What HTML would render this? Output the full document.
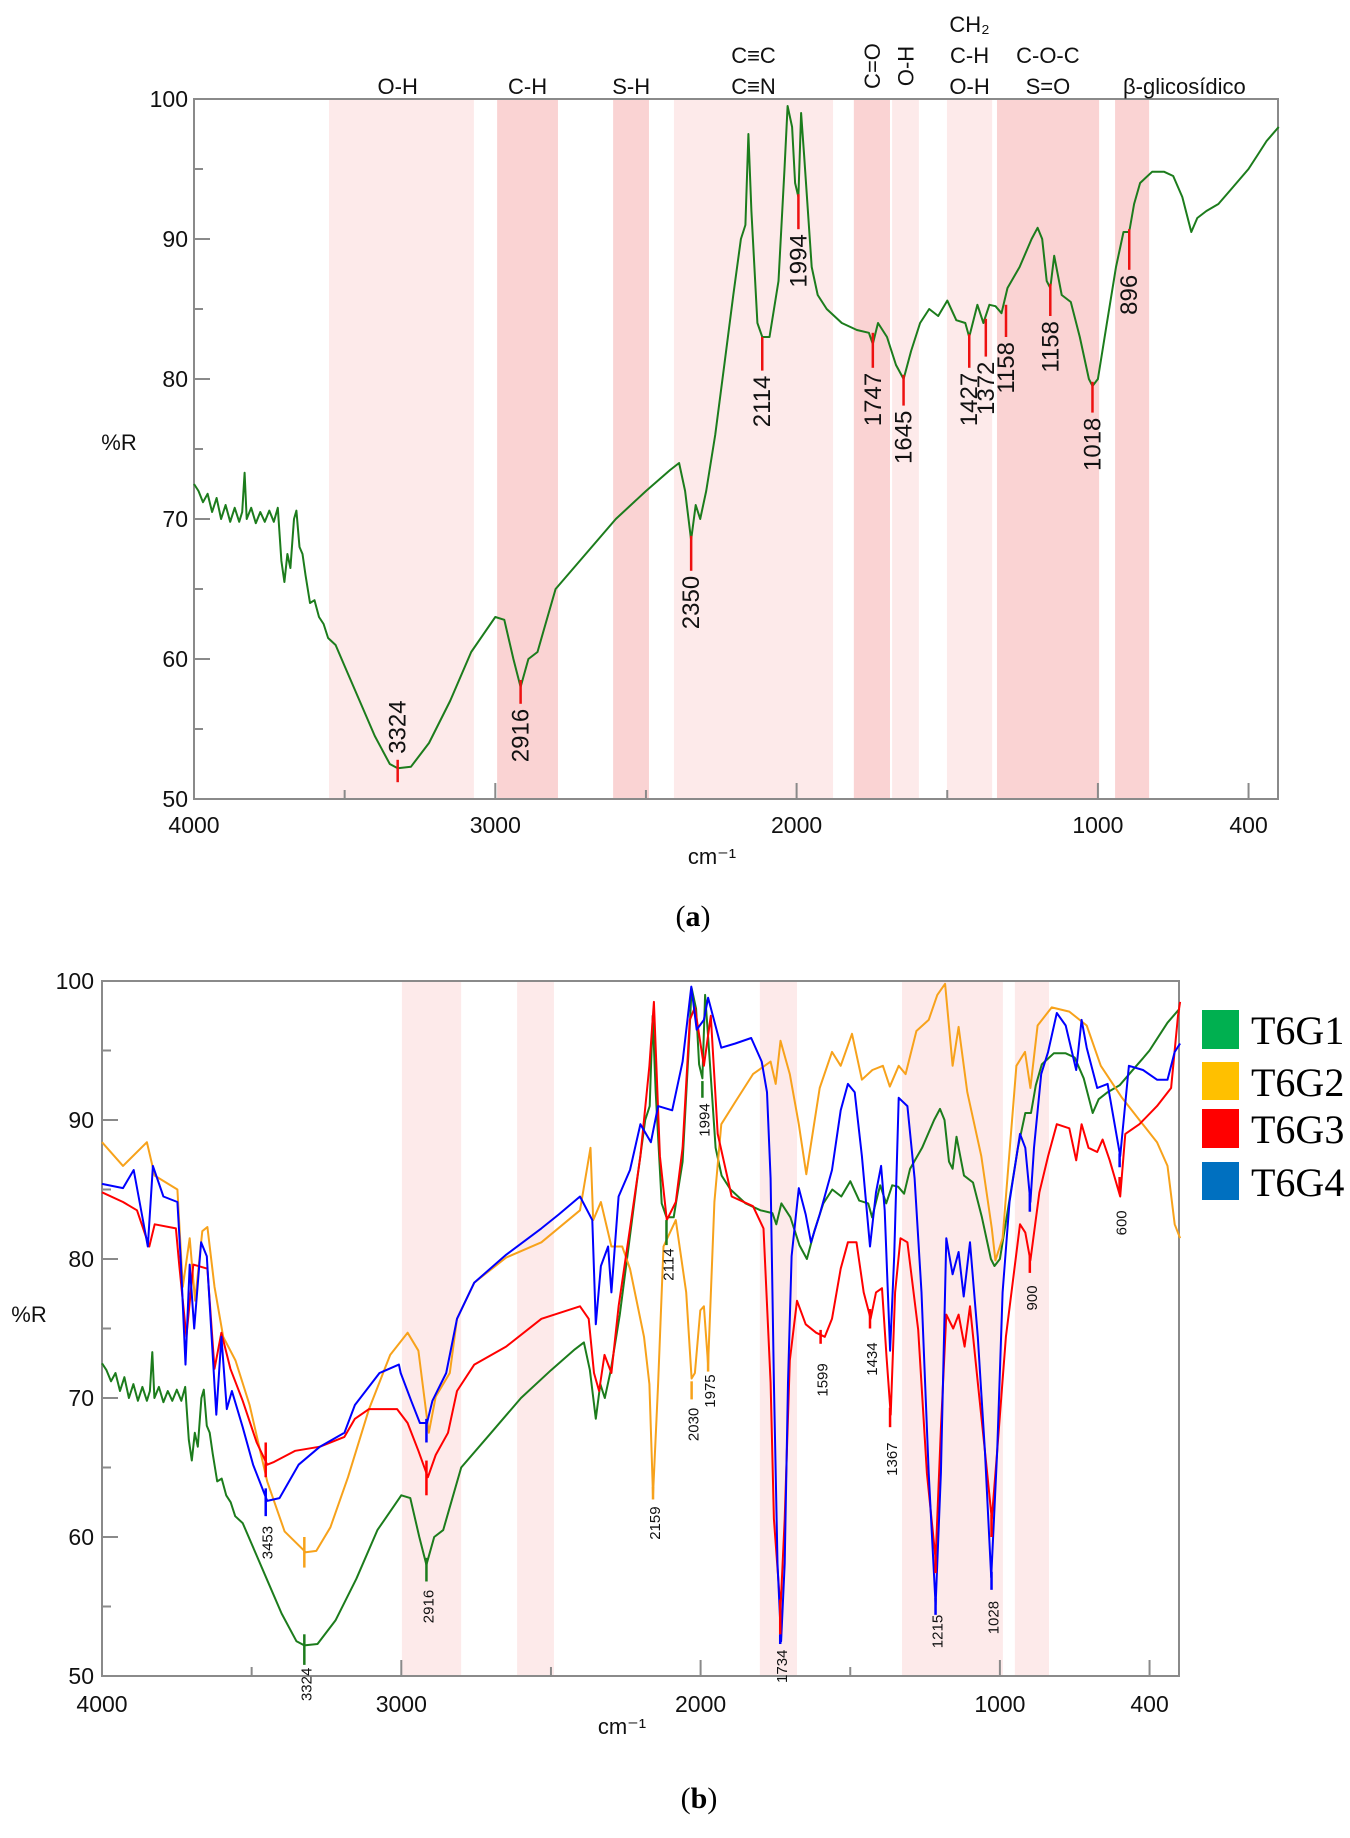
<!DOCTYPE html>
<html><head><meta charset="utf-8"><style>
html,body{margin:0;padding:0;background:#fff}
svg{display:block;font-family:"Liberation Sans",sans-serif}
</style></head><body>
<svg id="svg" width="1350" height="1838" viewBox="0 0 1350 1838" xmlns="http://www.w3.org/2000/svg">
<g id="gA"></g>
<g id="gB"></g>
<text x="693" y="926" font-size="30" text-anchor="middle" font-family="Liberation Serif,serif">(<tspan font-weight="bold">a</tspan>)</text>
<text x="699" y="1808" font-size="30" text-anchor="middle" font-family="Liberation Serif,serif">(<tspan font-weight="bold">b</tspan>)</text>
<g font-family="Liberation Serif,serif" font-size="40">
<rect x="1202" y="1010" width="37" height="39" fill="#00b050"/>
<text x="1251" y="1044">T6G1</text>
<rect x="1202" y="1062" width="37" height="38" fill="#ffc000"/>
<text x="1251" y="1096">T6G2</text>
<rect x="1202" y="1109" width="37" height="39" fill="#ff0000"/>
<text x="1251" y="1143">T6G3</text>
<rect x="1202" y="1162" width="37" height="38" fill="#0070c0"/>
<text x="1251" y="1196">T6G4</text>
</g>
</svg>
<script>
// ---------- data ----------
const xTickValues = [4000, 3000, 2000, 1000, 500];
const xTickLabels = ["4000", "3000", "2000", "1000", "400"];
const xMinorTicks = [3500, 2500, 1500];
const yTickValues = [100, 90, 80, 70, 60, 50];
const yMinorTicks = [95, 85, 75, 65, 55];

const g1Wn = [4000,3985,3970,3955,3940,3925,3910,3895,3880,3865,3850,3840,3832,3825,3810,3795,3780,3765,3750,3735,3722,3710,3700,3690,3680,3668,3660,3650,3640,3630,3615,3600,3585,3570,3555,3530,3500,3450,3400,3350,3324,3280,3220,3150,3080,3000,2970,2940,2916,2890,2860,2840,2800,2700,2600,2500,2420,2390,2370,2350,2335,2320,2300,2270,2240,2210,2185,2170,2160,2150,2130,2114,2090,2060,2040,2030,2015,2005,1994,1985,1975,1950,1930,1900,1850,1800,1760,1747,1730,1700,1670,1645,1620,1590,1560,1530,1500,1470,1440,1427,1400,1380,1360,1340,1320,1300,1260,1220,1200,1185,1170,1158,1145,1120,1090,1060,1030,1018,1000,970,940,915,896,880,860,820,780,750,720,690,670,640,600,560,520,500,470,440,400];
const g1Val = [72.5,72,71.2,71.8,70.5,71.5,70,71,69.8,70.8,69.8,70.5,73.3,70,70.8,69.7,70.5,69.8,70.6,69.8,70.8,67,65.5,67.5,66.5,70,70.6,68,67.5,66,64,64.2,63,62.5,61.5,61,59.5,57,54.5,52.5,52.2,52.3,54,57,60.5,63,62.8,60,58,60,60.5,62,65,67.5,70,72,73.5,74,72,68.5,71,70,72,76,81,86,90,91,97.5,92,84,83,83,87,95,99.5,98,94,93,99,96,88,86,85,84,83.5,83.3,82.5,84,83,81,80,82,84,85,84.5,85.6,84.2,84,83,85.3,84,85.3,85.2,84.7,86.5,88,90,90.8,90,87,86.5,88.8,86,85.5,83,80,79.5,80,84,88,90.5,90.5,92.5,94,94.8,94.8,94.5,93,90.5,91.5,92,92.5,93.5,94.5,95,96,97,98];

const g2Wn = [4000,3930,3850,3824,3748,3730,3707,3689,3665,3648,3624,3595,3554,3507,3448,3390,3319,3284,3237,3178,3108,3037,2979,2943,2908,2885,2838,2814,2756,2650,2532,2403,2368,2359,2333,2298,2262,2236,2189,2171,2159,2142,2124,2083,2048,2030,2019,2001,1989,1975,1954,1931,1884,1825,1766,1749,1733,1702,1672,1647,1602,1561,1532,1494,1461,1426,1391,1368,1338,1315,1279,1238,1209,1183,1158,1138,1109,1062,1027,1015,991,945,916,898,874,827,768,710,663,592,534,475,440,416,398];
const g2Val = [88.4,86.7,88.4,86,85,78,81.5,77,82,82.3,78,74.4,72.7,69.5,64,60.4,58.9,59,60.7,64.3,69.2,73.1,74.7,73.4,67.5,70.1,71.8,75.7,78.3,80.1,81.2,83.5,88,82.8,84.1,80.9,80.9,79.3,74.4,71,63,71,80.9,82.8,77.6,71.4,71.8,76.3,76.6,72.4,84.1,89.7,91.3,93.3,94.2,92.6,95.7,93.3,89.7,86.1,92.3,94.9,93.9,96.2,92.9,93.6,93.9,92.4,93.9,93.3,96.4,97.2,99,99.8,93.9,96.7,92,87.4,82.2,79.9,81.5,93.9,94.9,92.3,96.8,98.1,97.8,96.8,93.9,91.6,90,88.4,86.7,82.5,81.5];

const g3Wn = [4000,3930,3883,3842,3824,3753,3742,3718,3695,3648,3624,3601,3571,3530,3483,3448,3425,3354,3272,3190,3155,3108,3014,2979,2943,2911,2885,2844,2814,2756,2650,2532,2403,2374,2356,2339,2321,2298,2274,2236,2201,2171,2156,2136,2113,2083,2060,2036,2019,1989,1966,1943,1896,1825,1790,1766,1755,1733,1719,1702,1678,1649,1614,1585,1561,1532,1508,1479,1455,1432,1414,1394,1379,1365,1350,1332,1309,1273,1244,1215,1197,1179,1156,1138,1118,1100,1074,1050,1027,1009,980,933,915,898,868,839,810,768,745,727,704,675,657,633,598,581,534,475,428,405,398];
const g3Val = [84.8,84.1,83.5,80.9,82.5,82.2,79.6,74.4,79.6,79.3,72.1,74.7,72.1,69.8,66.8,65.2,65.4,66.2,66.5,67.2,68.5,69.2,69.2,68.2,66.2,64.3,65.9,67.5,70.5,72.4,73.7,75.7,76.6,75.7,71.8,70.5,73.1,71.8,76.6,82.2,87.4,93.9,98.5,87.4,82.8,84.1,88,97.2,98.1,93.9,97.5,89,84.5,83.8,82.2,71.1,61.3,54.8,61.3,72.7,77,75.3,74.7,74.4,75.7,79.3,81.2,81.2,77.6,75.7,77.6,77.9,73,68.8,77.6,81.5,81.2,74.9,64.6,58.4,67.8,76,75,76,73.7,76.6,71.1,66.2,61.3,66.2,74.4,82.5,81.9,79.9,84.8,87.4,89.7,89.4,87.1,89.7,88,87.7,88.6,87.1,84.5,89,89.7,91,92.3,97.5,98.5];

const g4Wn = [4000,3930,3894,3847,3830,3795,3748,3736,3721,3707,3692,3669,3650,3618,3601,3583,3566,3530,3495,3448,3407,3343,3272,3190,3155,3073,3008,3002,2967,2938,2914,2896,2850,2814,2756,2650,2532,2474,2403,2362,2350,2333,2309,2298,2274,2236,2201,2166,2142,2095,2060,2031,2013,1989,1975,1931,1884,1831,1796,1778,1766,1755,1743,1731,1719,1708,1696,1672,1649,1631,1602,1561,1532,1508,1485,1461,1434,1414,1397,1385,1367,1353,1338,1309,1285,1262,1238,1215,1197,1179,1158,1138,1121,1100,1074,1050,1029,1009,991,968,933,915,898,886,862,839,810,780,745,727,710,675,640,598,569,522,475,440,416,398];
const g4Val = [85.4,85.1,86.4,80.9,86.7,84.5,84.1,79.6,72.4,79.6,75,81.2,80.2,68.8,74.4,69.2,70.5,67.9,65.2,62.6,62.8,65.2,66.5,67.5,69.5,71.8,72.4,71.8,69.8,68.2,68.2,69.8,71.8,75.7,78.3,80.3,82.2,83.2,84.5,82.8,75.3,79.5,80.9,77.6,84.5,86.4,89.7,88.4,91,90.7,94.2,99.6,96.5,97.2,98.8,95.2,95.5,95.9,94.2,92,85.8,71.1,58.1,52.5,58.1,71.1,80.2,85.1,83.2,81.2,83.2,86.4,90.7,92.6,92,87.4,80.9,84.8,86.7,83.5,73.4,80.2,91.6,91,85.8,77.6,64.6,55.1,64.6,81.5,78.9,80.5,77.3,81.2,74.4,66.2,57.1,66.2,77.6,84.1,89,88,84.1,88,93.3,94.9,97.7,96.8,93.6,97.2,95.2,92.3,92.6,87.4,93.9,93.6,92.9,92.9,94.9,95.5];

// chart (a) peak annotations
const peaksA_wn = [3324, 2916, 2350, 2114, 1994, 1747, 1645, 1427, 1372, 1305, 1158, 1018, 896];
const peaksA_label = ["3324","2916","2350","2114","1994","1747","1645","1427","1372","1158","1158","1018","896"];
const peaksA_top = [52.8, 58.5, 68.8, 83, 93.2, 83.3, 80.3, 83.2, 84.3, 85.3, 86.8, 79.8, 90.7];
const peaksA_bot = [51.2, 56.8, 66.3, 80.6, 90.7, 80.8, 78.1, 80.8, 81.6, 83, 84.5, 77.6, 87.8];
const peaksA_above = [true,false,false,false,false,false,false,false,false,false,false,false,false];

// chart (a) functional group bands [start, end]
const bandsA_start = [3552, 2994, 2609, 2407, 1810, 1683, 1501, 1335, 943];
const bandsA_end   = [3071, 2792, 2490, 1879, 1690, 1594, 1351, 996, 830];
const bandsA_dark  = [false, true, true, false, true, false, false, true, true];
// chart (b) bands
const bandsB_start = [2998, 2613, 1802, 1327, 950];
const bandsB_end   = [2800, 2490, 1678, 990, 836];

// chart (b) marker segments
const markB_wn  = [3453,3453,3324,3324,2916,2916,2916,2159,2114,1994,2030,1975,1734,1734,1599,1434,1367,1215,1215,1028,1028,900,900,600,600];
const markB_ser = [4,3,2,1,4,3,1,2,1,1,2,2,4,3,3,3,3,4,3,4,3,3,4,3,4];
const markB_top = [63.5,66.8,60,53,68.5,65.5,58.5,63.6,82.8,92.8,71.2,73.2,53,55.5,74.9,76.4,69.3,55.6,58.6,57.5,61.6,80.2,84.7,85.9,87.6];
const markB_bot = [61.5,64.3,57.8,50.8,66.8,63,56.8,62.7,81,91.6,69.9,71.9,52.3,53,73.9,75,67.9,54.4,57.4,56.2,60,79,83.4,84.8,86.6];
const labB_wn  = [3453,3324,2916,2159,2114,1994,2030,1975,1734,1599,1434,1367,1215,1028,900,600];
const labB_txt = ["3453","3324","2916","2159","2114","1994","2030","1975","1734","1599","1434","1367","1215","1028","900","600"];
const labB_val = [59.6,49.4,55,61,79.6,90,68.1,70.5,50.7,71.3,72.8,65.6,53.2,54.2,77.2,82.6];

const groupLabels = [
  {t:["O-H"], w:3324}, {t:["C-H"], w:2893}, {t:["S-H"], w:2549}, {t:["C≡C","C≡N"], w:2143},
  {t:["CH₂","C-H","O-H"], w:1426}, {t:["C-O-C","S=O"], w:1166}, {t:["β-glicosídico"], w:713}
];
const rotGroupLabels = [{t:"C=O", w:1750}, {t:"O-H", w:1638}];

// ---------- helpers ----------
const NS = "http://www.w3.org/2000/svg";
function mk(parent, tag, attrs, txt){
  const e = document.createElementNS(NS, tag);
  for (const k in attrs) e.setAttribute(k, attrs[k]);
  if (txt !== undefined) e.textContent = txt;
  parent.appendChild(e);
  return e;
}
const seriesColor = {1:"#1c7c1c", 2:"#f7a21b", 3:"#ff0000", 4:"#0000ff"};

// axes (a)
const A = {l:194, r:1278, t:99, b:799};
const xA = w => A.l + (4000 - w) * 0.3013;
const yA = v => A.t + (100 - v) * 14;
// axes (b)
const B = {l:102, r:1179, t:981, b:1676};
const xB = w => B.l + (4000 - w) * 0.2993;
const yB = v => B.t + (100 - v) * 13.9;

function linePath(wn, val, fx, fy){
  let d = "";
  for (let i = 0; i < wn.length; i++) d += (i ? "L" : "M") + fx(wn[i]).toFixed(1) + " " + fy(val[i]).toFixed(1);
  return d;
}

function drawAxes(g, R, fx, fy, yLabelX, xLabelY, fs){
  const ax = mk(g, "g", {});
  
  
  const frame = mk(ax, "path", {d:`M${R.l} ${R.t}H${R.r}V${R.b}H${R.l}Z`, fill:"none", stroke:"#8a8a8a", "stroke-width":"2"});
  
  
  yTickValues.forEach(v => {
    const tk = mk(ax, "line", {x1:R.l, x2:R.l+16, y1:fy(v), y2:fy(v), stroke:"#8a8a8a", "stroke-width":"2"});
    
    
    const tl = mk(ax, "text", {x:yLabelX, y:fy(v)+8, "text-anchor":"end", "font-size":fs, fill:"#111"}, String(v));
    
    
  });
  yMinorTicks.forEach(v => {
    const tk = mk(ax, "line", {x1:R.l, x2:R.l+9, y1:fy(v), y2:fy(v), stroke:"#8a8a8a", "stroke-width":"2"});
    
    
  });
  xTickValues.forEach((w, i) => {
    const tk = mk(ax, "line", {x1:fx(w), x2:fx(w), y1:R.b, y2:R.b-16, stroke:"#8a8a8a", "stroke-width":"2"});
    
    
    const tl = mk(ax, "text", {x:fx(w), y:xLabelY, "text-anchor":"middle", "font-size":fs, fill:"#111"}, xTickLabels[i]);
    
    
  });
  xMinorTicks.forEach(w => {
    const tk = mk(ax, "line", {x1:fx(w), x2:fx(w), y1:R.b, y2:R.b-9, stroke:"#8a8a8a", "stroke-width":"2"});
    
    
  });
}

// ---------- chart (a) ----------
const gA = document.getElementById("gA");
bandsA_start.forEach((s, i) => {
  const r = mk(gA, "rect", {x:xA(s), y:A.t, width:xA(bandsA_end[i])-xA(s), height:A.b-A.t, fill: bandsA_dark[i] ? "#fad3d3" : "#fdeaea"});
  
  
});
drawAxes(gA, A, xA, yA, 188, 833, 23);
groupLabels.forEach(gl => {
  const n = gl.t.length;
  gl.t.forEach((t, j) => {
    const e = mk(gA, "text", {x:xA(gl.w), y:94 - (n-1-j)*31, "text-anchor":"middle", "font-size":22, fill:"#111"}, t);
    
    
  });
});
rotGroupLabels.forEach(gl => {
  const x = xA(gl.w) + 8, y = 66;
  const e = mk(gA, "text", {x:x, y:y, "text-anchor":"middle", "font-size":22, fill:"#111", transform:`rotate(-90 ${x} ${y})`}, gl.t);
  
  
});
const lineA = mk(gA, "path", {d:linePath(g1Wn, g1Val, xA, yA), fill:"none", stroke:seriesColor[1], "stroke-width":"2", "stroke-linejoin":"round"});


peaksA_wn.forEach((w, i) => {
  const x = xA(w);
  const m = mk(gA, "line", {x1:x, x2:x, y1:yA(peaksA_top[i]), y2:yA(peaksA_bot[i]), stroke:"#ee1111", "stroke-width":"2.5"});
  
  
  let y, anchor;
  if (peaksA_above[i]) { y = yA(peaksA_top[i]) - 6; anchor = "start"; }
  else { y = yA(peaksA_bot[i]) + 5; anchor = "end"; }
  const t = mk(gA, "text", {x:x+8, y:y, "text-anchor":anchor, "font-size":24, fill:"#111", transform:`rotate(-90 ${x+8} ${y})`}, peaksA_label[i]);
  
  
});
const ylA = mk(gA, "text", {x:119, y:450, "text-anchor":"middle", "font-size":22, fill:"#111"}, "%R");


const xlA = mk(gA, "text", {x:712, y:864, "text-anchor":"middle", "font-size":22, fill:"#111"}, "cm⁻¹");



// ---------- chart (b) ----------
const gB = document.getElementById("gB");
bandsB_start.forEach((s, i) => {
  const r = mk(gB, "rect", {x:xB(s), y:B.t, width:xB(bandsB_end[i])-xB(s), height:B.b-B.t, fill:"#fdeaea"});
  
  
});
drawAxes(gB, B, xB, yB, 94, 1712, 23);
const seriesB = [[g1Wn,g1Val,1],[g2Wn,g2Val,2],[g3Wn,g3Val,3],[g4Wn,g4Val,4]];
seriesB.forEach(s => {
  const p = mk(gB, "path", {d:linePath(s[0], s[1], xB, yB), fill:"none", stroke:seriesColor[s[2]], "stroke-width":"2", "stroke-linejoin":"round"});
  
  
});
markB_wn.forEach((w, i) => {
  const x = xB(w);
  const m = mk(gB, "line", {x1:x, x2:x, y1:yB(markB_top[i]), y2:yB(markB_bot[i]), stroke:seriesColor[markB_ser[i]], "stroke-width":"2.5"});
  
  
});
labB_wn.forEach((w, i) => {
  const x = xB(w) + 2, y = yB(labB_val[i]);
  const t = mk(gB, "text", {x:x, y:y+5, "text-anchor":"middle", "font-size":15, fill:"#111", transform:`rotate(-90 ${x} ${y})`}, labB_txt[i]);
  
  
});
const ylB = mk(gB, "text", {x:29, y:1322, "text-anchor":"middle", "font-size":22, fill:"#111"}, "%R");


const xlB = mk(gB, "text", {x:622, y:1734, "text-anchor":"middle", "font-size":22, fill:"#111"}, "cm⁻¹");


</script>
</body></html>
